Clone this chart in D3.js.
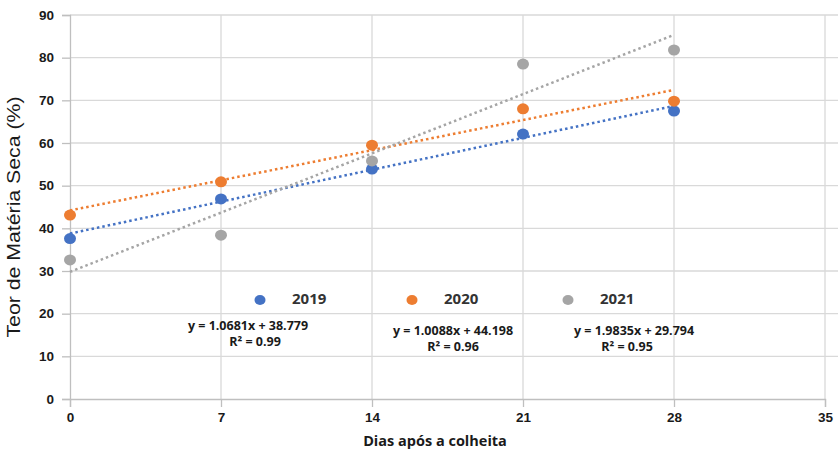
<!DOCTYPE html>
<html>
<head>
<meta charset="utf-8">
<script src="https://cdn.jsdelivr.net/npm/d3@7"></script>
<style>
  body { margin: 0; background: #fff; }
  svg { display: block; font-family: "Open Sans", "DejaVu Sans", sans-serif; }
</style>
</head>
<body>
<div id="chart"></div>
<script>
// data
const days = [0, 7, 14, 21, 28];
const years = ["2019", "2020", "2021"];
const values2019 = [37.6, 46.9, 53.9, 62.1, 67.5];
const values2020 = [43.1, 50.9, 59.5, 68.0, 69.8];
const values2021 = [32.6, 38.4, 55.8, 78.5, 81.8];
const slopes = [1.0681, 1.0088, 1.9835];
const intercepts = [38.779, 44.198, 29.794];
const r2 = ["0.99", "0.96", "0.95"];
const colors = ["#4472C4", "#ED7D31", "#A5A5A5"];
const xTicks = [0, 7, 14, 21, 28, 35];
const yTicks = [0, 10, 20, 30, 40, 50, 60, 70, 80, 90];

const seriesValues = [values2019, values2020, values2021];

const width = 838, height = 450;
const x = d3.scaleLinear().domain([0, 35]).range([70, 825]);
const y = d3.scaleLinear().domain([0, 90]).range([399, 15]);

const svg = d3.select("#chart").append("svg")
    .attr("width", width).attr("height", height);

// grid
svg.append("g").selectAll("line").data(yTicks.slice(1)).join("line")
    .attr("x1", x(0)).attr("x2", 838)
    .attr("y1", d => y(d)).attr("y2", d => y(d))
    .attr("stroke", "#d9d9d9").attr("stroke-width", 1.3);
svg.append("g").selectAll("line").data(xTicks.slice(1)).join("line")
    .attr("x1", d => x(d)).attr("x2", d => x(d))
    .attr("y1", y(90)).attr("y2", y(0))
    .attr("stroke", "#d9d9d9").attr("stroke-width", 1.3);

// axes
const yAxis = svg.append("g").attr("transform", `translate(${x(0)},0)`)
    .call(d3.axisLeft(y).tickValues(yTicks).tickSize(8).tickPadding(8));
const xAxis = svg.append("g").attr("transform", `translate(0,${y(0)})`)
    .call(d3.axisBottom(x).tickValues(xTicks).tickSize(8).tickPadding(4));
[yAxis, xAxis].forEach(a => {
    a.select(".domain").attr("stroke", "#bfbfbf").attr("stroke-width", 1.3);
    a.selectAll(".tick line").attr("stroke", "#bfbfbf").attr("stroke-width", 1.3);
    a.selectAll(".tick text").attr("fill", "#1a1a1a")
        .style("font-size", "13.5px").style("font-weight", "bold");
});
xAxis.selectAll(".tick text").attr("dy", "0.85em");

// trendlines
years.forEach((yr, i) => {
    svg.append("line")
        .attr("x1", x(0)).attr("y1", y(intercepts[i]))
        .attr("x2", x(28)).attr("y2", y(slopes[i] * 28 + intercepts[i]))
        .attr("stroke", colors[i]).attr("stroke-width", 2.5)
        .attr("stroke-dasharray", "2.5,3");
});

// points
years.forEach((yr, i) => {
    svg.append("g").selectAll("ellipse").data(seriesValues[i]).join("ellipse")
        .attr("cx", (d, j) => x(days[j])).attr("cy", d => y(d))
        .attr("rx", 6).attr("ry", 5.5)
        .attr("fill", colors[i]);
});

// legend
const legendX = [260, 412, 568];
years.forEach((yr, i) => {
    svg.append("ellipse").attr("cx", legendX[i]).attr("cy", 300)
        .attr("rx", 5.5).attr("ry", 5).attr("fill", colors[i]);
    svg.append("text").attr("x", legendX[i] + 32).attr("y", 304)
        .attr("fill", "#333").style("font-size", "15px").style("font-weight", "bold")
        .text(yr);
});

// equations
const eqX = [248, 453, 634];
const eqY = [326, 331, 331];
const rX = [255, 453, 627];
years.forEach((yr, i) => {
    svg.append("text").attr("x", eqX[i]).attr("y", eqY[i] + 4)
        .attr("text-anchor", "middle").attr("fill", "#1a1a1a")
        .style("font-size", "12.5px").style("font-weight", "bold")
        .text(`y = ${slopes[i].toFixed(4)}x + ${intercepts[i].toFixed(3)}`);
    svg.append("text").attr("x", rX[i]).attr("y", eqY[i] + 20)
        .attr("text-anchor", "middle").attr("fill", "#1a1a1a")
        .style("font-size", "12.5px").style("font-weight", "bold")
        .text(`R² = ${r2[i]}`);
});

// axis titles
svg.append("text").attr("x", 435).attr("y", 446)
    .attr("text-anchor", "middle").attr("fill", "#1a1a1a")
    .style("font-size", "14.5px").style("font-weight", "bold")
    .text("Dias após a colheita");
svg.append("text")
    .attr("transform", "translate(20,217) rotate(-90) scale(1.12,1)")
    .attr("text-anchor", "middle").attr("fill", "#1a1a1a")
    .style("font-family", "'Liberation Sans', Arial, sans-serif")
    .style("font-size", "19px")
    .text("Teor de Matéria Seca (%)");
</script>
</body>
</html>
